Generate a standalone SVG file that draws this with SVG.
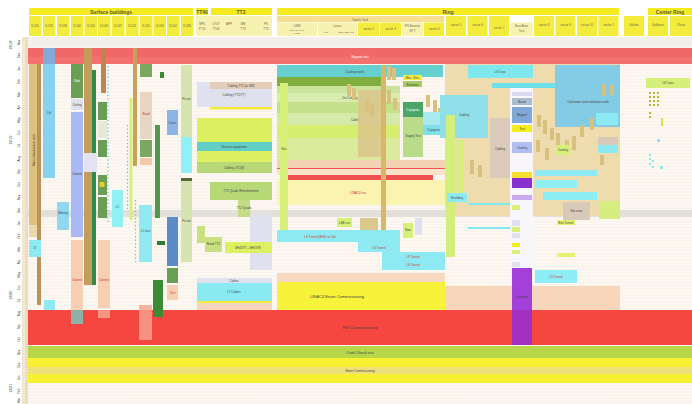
<svg xmlns="http://www.w3.org/2000/svg" width="692" height="404" viewBox="0 0 692 404">
<defs>
<pattern id="grid" x="0" y="37" width="692" height="3.225" patternUnits="userSpaceOnUse">
<line x1="0" y1="0.2" x2="692" y2="0.2" stroke="#ede3d8" stroke-width="0.4"/>
</pattern>
<pattern id="ticks" x="0" y="37" width="6" height="1.61" patternUnits="userSpaceOnUse">
<line x1="1" y1="0.5" x2="4.5" y2="0.5" stroke="#c8b088" stroke-width="0.35"/>
</pattern>
<style>
.t{font-family:"Liberation Sans",Arial,sans-serif;fill:#444}
.h{font-size:5px;font-weight:bold;fill:#5a5a3a}
.c{font-size:3px;fill:#6a6a50}
.s{font-size:3px}
.m{font-size:4px}
.r{fill:#d03030}
.w{fill:#ffffff}
.hy{fill:#f3ea1f}
.hc{fill:#f4ec3c}
.hp{fill:#f8f2b0}
.tan{fill:#dcc07c}
.brn{fill:#bb925a}
.lb{fill:#86d2f0}
.cy{fill:#8eeaf2}
.grn{fill:#6a9e55}
.dg{fill:#2f8c48}
.pk{fill:#f7cfb2}
.lav{fill:#e0e1ef}
.per{fill:#a9b9f3}
.yg{fill:#dcf060}
.lg{fill:#c6e08a}
.pg{fill:#d6e4b0}
.tb{fill:#d8c07e}
.pur{fill:#a240d6}
</style>
</defs>

<rect x="0" y="0" width="692" height="404" fill="#ffffff"/>

<g id="chart-background">
<rect x="28" y="37" width="664" height="367" fill="#fcf7f1"/>
<rect x="28" y="37" width="664" height="367" fill="url(#grid)"/>
<rect x="28" y="37" width="664" height="10" fill="#f3efea"/>
<rect x="28" y="210" width="664" height="7" fill="#e3dfdb"/>
</g>

<g id="axis">
<rect x="22" y="37" width="6" height="367" fill="#f4e8d2"/>
<rect x="22" y="37" width="6" height="367" fill="url(#ticks)"/>
<g class="t" font-size="3.2" fill="#666">
<text class="t m" transform="translate(12,45) rotate(-90)" text-anchor="middle">2018</text>
<text class="t m" transform="translate(12,140) rotate(-90)" text-anchor="middle">2019</text>
<text class="t m" transform="translate(12,295) rotate(-90)" text-anchor="middle">2020</text>
<text class="t m" transform="translate(12,388) rotate(-90)" text-anchor="middle">2021</text>
</g>
<g class="t" font-size="3" text-anchor="middle">
<text transform="translate(19.5,42.6) rotate(-90)">Nov</text>
<text transform="translate(19.5,55.5) rotate(-90)">Dec</text>
<text transform="translate(19.5,68.5) rotate(-90)">Jan</text>
<text transform="translate(19.5,81.4) rotate(-90)">Feb</text>
<text transform="translate(19.5,94.3) rotate(-90)">Mar</text>
<text transform="translate(19.5,107.2) rotate(-90)">Apr</text>
<text transform="translate(19.5,120.1) rotate(-90)">May</text>
<text transform="translate(19.5,133) rotate(-90)">Jun</text>
<text transform="translate(19.5,145.9) rotate(-90)">Jul</text>
<text transform="translate(19.5,158.8) rotate(-90)">Aug</text>
<text transform="translate(19.5,171.7) rotate(-90)">Sep</text>
<text transform="translate(19.5,184.6) rotate(-90)">Oct</text>
<text transform="translate(19.5,197.5) rotate(-90)">Nov</text>
<text transform="translate(19.5,210.4) rotate(-90)">Dec</text>
<text transform="translate(19.5,223.3) rotate(-90)">Jan</text>
<text transform="translate(19.5,236.2) rotate(-90)">Feb</text>
<text transform="translate(19.5,249.1) rotate(-90)">Mar</text>
<text transform="translate(19.5,262) rotate(-90)">Apr</text>
<text transform="translate(19.5,274.9) rotate(-90)">May</text>
<text transform="translate(19.5,287.8) rotate(-90)">Jun</text>
<text transform="translate(19.5,300.7) rotate(-90)">Jul</text>
<text transform="translate(19.5,313.6) rotate(-90)">Aug</text>
<text transform="translate(19.5,326.5) rotate(-90)">Sep</text>
<text transform="translate(19.5,339.4) rotate(-90)">Oct</text>
<text transform="translate(19.5,352.3) rotate(-90)">Nov</text>
<text transform="translate(19.5,365.2) rotate(-90)">Dec</text>
<text transform="translate(19.5,378.1) rotate(-90)">Jan</text>
<text transform="translate(19.5,391) rotate(-90)">Feb</text>
<text transform="translate(19.5,400.5) rotate(-90)">Mar</text>
</g>
</g>

<g id="header">
<rect class="hy" x="29" y="8" width="164" height="7"/>
<text class="t h" x="111" y="13.5" text-anchor="middle">Surface buildings</text>
<rect class="hy" x="196" y="8" width="12" height="7"/>
<text class="t h" x="202" y="13.5" text-anchor="middle" font-size="3.5">TT40</text>
<rect class="hy" x="211" y="8" width="61" height="7"/>
<text class="t h" x="241" y="13.5" text-anchor="middle">TT2</text>
<rect class="hy" x="277" y="8" width="342" height="7"/>
<text class="t h" x="448" y="13.5" text-anchor="middle">Ring</text>
<rect class="hy" x="648" y="8" width="44" height="7"/>
<text class="t h" x="670" y="13.5" text-anchor="middle">Center Ring</text>

<g class="hc">
<rect x="29" y="16" width="12.5" height="20"/><rect x="43" y="16" width="12.5" height="20"/>
<rect x="57" y="16" width="12.5" height="20"/><rect x="71" y="16" width="12.5" height="20"/>
<rect x="84.5" y="16" width="12.5" height="20"/><rect x="98" y="16" width="12.5" height="20"/>
<rect x="112" y="16" width="12.5" height="20"/><rect x="126" y="16" width="12.5" height="20"/>
<rect x="140" y="16" width="12.5" height="20"/><rect x="153.5" y="16" width="12.5" height="20"/>
<rect x="167" y="16" width="12.5" height="20"/><rect x="181" y="16" width="12.5" height="20"/>
</g>
<g class="c t" text-anchor="middle">
<text x="35" y="27">S-531</text><text x="49" y="27">S-535</text><text x="63" y="27">S-538</text>
<text x="77" y="27">S-540</text><text x="91" y="27">S-541</text><text x="104" y="27">S-543</text>
<text x="118" y="27">S-547</text><text x="132" y="27">S-553</text><text x="146" y="27">S-561</text>
<text x="160" y="27">S-565</text><text x="173" y="27">S-567</text><text x="187" y="27">S-588</text>
</g>
<rect class="hp" x="196" y="16" width="76" height="20"/>
<g class="c t" text-anchor="middle">
<text x="202" y="25">SPS</text><text x="202" y="30">TT10</text>
<text x="216" y="25">sTGT</text><text x="216" y="30">TT40</text>
<text x="229" y="25">APP</text>
<text x="243" y="25">IBE</text><text x="243" y="30">TT4</text>
<text x="266" y="25">PS</text><text x="266" y="30">TT2</text>
</g>
<rect x="277" y="16" width="167" height="6" fill="#f6df90"/>
<text class="c t" x="360" y="20.5" text-anchor="middle">Switch Yard</text>
<rect class="hp" x="277" y="22.5" width="40" height="13.5"/>
<rect class="hp" x="318" y="22.5" width="39" height="13.5"/>
<rect class="hc" x="358" y="22.5" width="21" height="13.5"/>
<rect class="hc" x="380" y="22.5" width="21" height="13.5"/>
<rect class="hp" x="402" y="22.5" width="21" height="13.5"/>
<rect class="hc" x="424" y="22.5" width="20" height="13.5"/>
<rect class="hc" x="446" y="16" width="20" height="20"/>
<rect class="hc" x="467.5" y="16" width="20" height="20"/>
<rect class="hc" x="489" y="16" width="20" height="20"/>
<rect class="hp" x="510.5" y="22.5" width="22" height="13.5"/>
<rect class="hc" x="534" y="16" width="20" height="20"/>
<rect class="hc" x="555.5" y="16" width="20" height="20"/>
<rect class="hc" x="577" y="16" width="20" height="20"/>
<rect class="hc" x="598.5" y="16" width="20" height="20"/>
<rect class="hc" x="624" y="16" width="20" height="20"/>
<rect class="hc" x="648" y="16" width="20" height="20"/>
<rect class="hc" x="670" y="16" width="22" height="20"/>
<g class="c t" text-anchor="middle">
<text x="297" y="26.5">LINR</text><text x="297" y="30.5" font-size="2.5">OSI-TS-LT-S</text><text x="297" y="34" font-size="2.5">LINR</text>
<text x="337.5" y="27">Linacs</text><text x="326" y="32.5" font-size="2.5">LT1</text><text x="346" y="32.5" font-size="2.5">SBC-SBC-TS</text>
<text x="368.5" y="30">sector 2</text><text x="390.5" y="30">sector 3</text>
<text x="412.5" y="27">PS Booster</text><text x="412.5" y="32">BTY</text>
<text x="434" y="30">sector 4</text><text x="456" y="26">sector 5</text>
<text x="477.5" y="26">sector 6</text><text x="499" y="29">sector 7</text>
<text x="521.5" y="27">East Area</text><text x="521.5" y="32">Test</text>
<text x="544" y="26">sector 8</text><text x="565.5" y="26">sector 9</text>
<text x="587" y="26">sector 10</text><text x="608.5" y="26">sector 1</text>
<text x="634" y="26">Utilities</text>
<text x="658" y="26">Galleries</text><text x="681" y="26">Chute</text>
</g>
</g>

<g id="shutdown-band">
<rect x="28" y="48" width="664" height="16" fill="#f26868"/>
<rect x="28" y="57" width="664" height="7" fill="#f47a74" opacity="0.6"/>
<text class="t s w" x="360" y="57.5" text-anchor="middle">Magnets test</text>
</g>

<g id="surface-buildings">
<rect class="tan" x="29" y="64" width="8" height="173"/>
<text class="t s" transform="translate(34.5,150) rotate(-90)" text-anchor="middle">Main infrastructure work</text>
<rect x="29" y="225" width="8" height="12" fill="#ead9ac"/>
<rect class="brn" x="37" y="64" width="4" height="241"/>
<rect class="cy" x="29" y="240" width="12" height="17"/>
<text class="t s" x="35" y="249" text-anchor="middle" font-size="2.5">LT</text>
<rect x="43" y="48" width="12" height="16" fill="#85a9d6"/>
<rect class="lb" x="43" y="64" width="12" height="114"/>
<text class="t s" x="49" y="114" text-anchor="middle" font-size="2.5">Lift</text>
<rect class="cy" x="44" y="300" width="11" height="10"/>
<rect x="57" y="202" width="12" height="28" fill="#8fd8f0"/>
<text class="t s" x="63" y="214" text-anchor="middle" font-size="2.5">Moving</text>
<rect class="grn" x="71" y="64" width="12" height="34"/>
<text class="t s w" x="77" y="82" text-anchor="middle" font-size="2.5">Slab</text>
<rect class="lav" x="71" y="99" width="12" height="11"/>
<text class="t s" x="77" y="105.5" text-anchor="middle" font-size="2.5">Ceiling</text>
<rect class="per" x="71" y="112" width="12" height="125"/>
<text class="t s" x="77" y="175" text-anchor="middle" font-size="2.5">Control</text>
<rect class="pk" x="71" y="240" width="12" height="70"/>
<text class="t s r" x="77" y="281" text-anchor="middle" font-size="2.5">Control</text>
<rect x="71" y="310" width="12" height="14" fill="#8fb2a8"/>
<rect x="84" y="48" width="8" height="237" fill="#c49c5c"/>
<rect class="dg" x="92" y="70" width="4" height="215"/>
<rect x="101" y="48" width="5" height="45" fill="#bf8452"/>
<rect class="grn" x="98" y="102" width="9" height="18"/>
<rect x="98" y="121" width="9" height="17" fill="#e6e8da"/>
<rect class="grn" x="98" y="140" width="9" height="17"/>
<rect x="84" y="153" width="13" height="19" fill="#e2e2f0"/>
<rect class="grn" x="98" y="175" width="9" height="20"/>
<rect x="99.5" y="182" width="5" height="5" fill="#e8cc30"/>
<rect class="grn" x="98" y="197" width="9" height="21"/>
<line x1="108" y1="66" x2="108" y2="222" stroke="#4cc0e8" stroke-width="1.2" stroke-dasharray="1.2 2.4"/>
<rect class="pk" x="98" y="240" width="12" height="68"/>
<text class="t s r" x="104" y="281" text-anchor="middle" font-size="2.5">Control</text>
<rect x="112" y="190" width="11" height="37" fill="#90f0f2"/>
<text class="t s" x="117.5" y="208" text-anchor="middle" font-size="2.5">LC</text>
<rect x="133" y="48" width="4" height="118" fill="#c9a05e"/>
<rect x="129.5" y="98" width="3" height="122" fill="#d8f07a"/>
<line x1="127.5" y1="125" x2="127.5" y2="210" stroke="#4cc0e8" stroke-width="1.2" stroke-dasharray="1.2 2.4"/>
<line x1="135.5" y1="200" x2="135.5" y2="262" stroke="#4cc0e8" stroke-width="1.2" stroke-dasharray="1.2 2.4"/>
<rect x="140" y="64" width="12" height="13" fill="#7aa860"/>
<rect x="140" y="92" width="12" height="47" fill="#e8d6c4"/>
<text class="t s r" x="146" y="115" text-anchor="middle" font-size="2.5">Road</text>
<rect x="140" y="140" width="12" height="17" fill="#7aa860"/>
<rect x="140" y="158" width="12" height="7" fill="#f5c9a8"/>
<rect x="139" y="205" width="13" height="57" fill="#90eaf2"/>
<text class="t s" x="145.5" y="232" text-anchor="middle" font-size="2.5">LC test</text>
<rect x="139" y="305" width="13" height="35" fill="#f5b49c"/>
<text class="t s r" x="145.5" y="323" text-anchor="middle" font-size="2.5">Control</text>
<rect x="160" y="72" width="4" height="6" fill="#3a8a36"/>
<rect x="155" y="125" width="5" height="93" fill="#4f9a4a"/>
<rect x="157" y="241" width="8" height="4" fill="#2e7a30"/>
<rect x="153" y="280" width="10" height="37" fill="#3a8a36"/>
<rect x="167" y="110" width="11" height="25" fill="#8cb4e6"/>
<text class="t s" x="172.5" y="124" text-anchor="middle" font-size="2.5">Cours</text>
<rect x="167" y="217" width="11" height="49" fill="#5b8cc8"/>
<rect class="grn" x="167" y="268" width="11" height="15"/>
<rect class="pk" x="167" y="285" width="11" height="15"/>
<text class="t s r" x="172.5" y="294" text-anchor="middle" font-size="2.5">Test</text>
<rect class="pg" x="181" y="65" width="11" height="72"/>
<text class="t s" x="186.5" y="100" text-anchor="middle" font-size="2.5">Fit out</text>
<rect x="181" y="137" width="11" height="36" fill="#90f0f8"/>
<rect x="181" y="178" width="11" height="3" fill="#556b3a"/>
<rect class="pg" x="181" y="181" width="11" height="81"/>
<text class="t s" x="186.5" y="222" text-anchor="middle" font-size="2.5">Fit out</text>
</g>

<g id="tt40-tt2">
<rect class="lav" x="197" y="82" width="75" height="25"/>
<rect x="210" y="82" width="62" height="7" fill="#e1cdb8"/>
<text class="t s" x="241" y="87" text-anchor="middle">Cabling TT2 (to SM)</text>
<text class="t s" x="234" y="96" text-anchor="middle">Cabling (TT2/TT)</text>
<rect x="210" y="107" width="62" height="2.5" fill="#f3ea3a"/>
<rect class="yg" x="197" y="118" width="75" height="24"/>
<rect x="197" y="142" width="75" height="9" fill="#62cfc6"/>
<text class="t s" x="234" y="148" text-anchor="middle">Vacuum equipment</text>
<rect class="yg" x="197" y="151" width="75" height="11"/>
<rect x="197" y="162" width="75" height="11" fill="#b8d878"/>
<text class="t s" x="234" y="169" text-anchor="middle">Cabling LTC(B)</text>
<rect x="210" y="182" width="62" height="18" fill="#b8d878"/>
<text class="t s" x="241" y="192" text-anchor="middle">TT2 Quads Refurbishment</text>
<rect x="238" y="200" width="12" height="17" fill="#c4dc86"/>
<text class="t s" x="244" y="209" text-anchor="middle" font-size="2.3">TT2 Quads</text>
<rect class="lav" x="250" y="215" width="22" height="55"/>
<rect x="197" y="226" width="8" height="17" fill="#c8e080"/>
<rect x="205" y="237" width="17" height="15" fill="#c8e080"/>
<text class="t s" x="213.5" y="245" text-anchor="middle" font-size="2.3">Road TT2</text>
<rect class="yg" x="225" y="242" width="47" height="11"/>
<text class="t s" x="248" y="249" text-anchor="middle">BHZ377 + BHZ378</text>
<rect class="lav" x="197" y="278" width="75" height="5"/>
<text class="t s" x="234" y="282" text-anchor="middle" font-size="2.5">Cables</text>
<rect x="197" y="283" width="75" height="18" fill="#8aeaf2"/>
<text class="t s" x="234" y="293" text-anchor="middle">LT Cables</text>
<rect x="197" y="301" width="75" height="2.5" fill="#f3ea3a"/>
<rect x="197" y="303" width="75" height="7" fill="#f7d4bc"/>
</g>

<g id="ring-switch-yard">
<rect x="277" y="65" width="166" height="12" fill="#66cfd0"/>
<text class="t s" x="355" y="72.5" text-anchor="middle">Cooling works</text>
<rect x="277" y="77" width="108" height="9" fill="#7fae3e"/>
<rect x="277" y="86" width="123" height="7" fill="#c9e39a"/>
<rect x="277" y="93" width="123" height="9" fill="#d8ecb0"/>
<text class="t s" x="350" y="99" text-anchor="middle">De-Cabling</text>
<rect x="277" y="102" width="123" height="11" fill="#c4e08a"/>
<rect x="277" y="113" width="123" height="12" fill="#d5eaa8"/>
<text class="t s" x="356" y="121" text-anchor="middle">Cabling</text>
<rect x="277" y="125" width="123" height="13" fill="#d6ee70"/>
<rect x="277" y="138" width="123" height="22" fill="#dcea9e"/>
<rect x="277" y="160" width="168" height="8" fill="#f3d2b4"/>
<rect x="277" y="168" width="168" height="1" fill="#f05050"/>
<rect x="277" y="169" width="168" height="6" fill="#f8e2c8"/>
<rect x="280" y="175" width="153" height="5" fill="#f05050"/>
<rect x="277" y="180" width="168" height="25" fill="#fbf3b0"/>
<text class="t s r" x="358" y="194" text-anchor="middle">LINAC4 run</text>
<rect x="280" y="83" width="8" height="150" fill="#d7f07a"/>
<text class="t s" x="284" y="150" text-anchor="middle" font-size="2.5">Bus</text>
<rect x="358" y="90" width="27" height="67" fill="#d9c48a" opacity="0.85"/>
<rect x="381" y="65" width="5" height="165" fill="#d8b868"/>
<g class="tb">
<rect x="387" y="66" width="4" height="14"/><rect x="392" y="68" width="4" height="12"/>
<rect x="347" y="84" width="4" height="12"/><rect x="352" y="88" width="4" height="12"/>
<rect x="387" y="90" width="4" height="14"/><rect x="393" y="98" width="4" height="12"/>
<rect x="365" y="100" width="4" height="12"/><rect x="370" y="104" width="4" height="12"/>
<rect x="426" y="95" width="4" height="12"/><rect x="433" y="100" width="4" height="14"/>
<rect x="438" y="108" width="4" height="12"/>
</g>
<rect x="403" y="75" width="19" height="5" fill="#f5ec40"/>
<text class="t s" x="412.5" y="79" text-anchor="middle" font-size="2.5">Misc. Env.</text>
<rect x="403" y="81" width="19" height="6" fill="#a5cc62"/>
<text class="t s" x="412.5" y="85.5" text-anchor="middle" font-size="2.5">Removal</text>
<rect x="403" y="102" width="20" height="15" fill="#4aa668"/>
<text class="t s w" x="413" y="111" text-anchor="middle" font-size="2.5">Cryogenic</text>
<rect x="403" y="117" width="20" height="40" fill="#b8dc8a"/>
<text class="t s" x="413" y="137" text-anchor="middle" font-size="2.5">Supply Test</text>
<rect x="423" y="112" width="22" height="13" fill="#a8eaf0"/>
<rect x="423" y="125" width="22" height="10" fill="#7fe0e8"/>
<text class="t s" x="434" y="131" text-anchor="middle" font-size="2.5">Cryogenic</text>
<rect x="337" y="218" width="15" height="9" fill="#d6f07a"/>
<text class="t s" x="344.5" y="224" text-anchor="middle" font-size="2.5">LBE run</text>
<rect x="360" y="218" width="18" height="12" fill="#dcc88e"/>
<rect x="403" y="223" width="10" height="15" fill="#d7f07a"/>
<text class="t s" x="408" y="231" text-anchor="middle" font-size="2.3">New</text>
<rect class="lav" x="415" y="218" width="7" height="17"/>
<rect class="cy" x="277" y="230" width="123" height="12"/>
<text class="t s r" x="320" y="237.5" text-anchor="middle">LS Tunnel (BHZ) to 100</text>
<rect class="cy" x="358" y="242" width="42" height="10"/>
<text class="t s r" x="379" y="248.5" text-anchor="middle" font-size="2.5">LS Tunnel</text>
<rect class="cy" x="382" y="252" width="63" height="18"/>
<text class="t s r" x="413" y="257.5" text-anchor="middle" font-size="2.5">LS Tunnel</text>
<text class="t s r" x="413" y="266" text-anchor="middle" font-size="2.5">LS Tunnel</text>
<rect x="277" y="273" width="168" height="9" fill="#f8d8c0"/>
<rect x="277" y="282" width="168" height="28" fill="#f7f23a"/>
<text class="t m" x="337" y="297.5" text-anchor="middle">LINAC4 Beam Commissioning</text>
</g>

<g id="ring-sectors">
<rect x="445" y="64" width="175" height="152" fill="#efdcae"/>
<rect x="468" y="65" width="65" height="13" fill="#7fe8ee"/>
<text class="t s" x="500" y="73" text-anchor="middle" font-size="2.5">LS Cryo</text>
<rect x="492" y="83" width="63" height="5" fill="#6ee0e8"/>
<rect x="440" y="95" width="48" height="43" fill="#8fe0ea"/>
<text class="t s" x="464" y="116" text-anchor="middle" font-size="2.5">Cabling</text>
<rect x="446" y="115" width="9" height="142" fill="#d4ee7c"/>
<rect x="457" y="140" width="6" height="60" fill="#d6f07a"/>
<rect x="490" y="118" width="20" height="60" fill="#dacbbb"/>
<text class="t s" x="500" y="150" text-anchor="middle" font-size="2.5">Cabling</text>
<rect x="510" y="88" width="23" height="200" fill="#f8f6fb"/>
<rect x="512" y="92" width="20" height="4" fill="#d8d8f0"/>
<rect x="512" y="98" width="20" height="7" fill="#a9bcd0"/>
<text class="t s" x="522" y="103" text-anchor="middle" font-size="2.3">Beam</text>
<rect x="512" y="107" width="20" height="16" fill="#7fa8d8"/>
<text class="t s" x="522" y="116" text-anchor="middle" font-size="2.3">Magnet</text>
<rect x="512" y="125" width="20" height="7" fill="#f5ec20"/>
<text class="t s" x="522" y="130" text-anchor="middle" font-size="2.3">Test</text>
<rect x="512" y="142" width="20" height="11" fill="#b0bff2"/>
<text class="t s" x="522" y="149" text-anchor="middle" font-size="2.3">Cooling</text>
<rect x="512" y="172" width="20" height="6" fill="#f5e030"/>
<rect x="512" y="178" width="20" height="10" fill="#8a2fd0"/>
<rect x="512" y="195" width="20" height="5" fill="#c9a8f0"/>
<rect x="512" y="205" width="8" height="5" fill="#d6f07a"/>
<rect x="512" y="220" width="8" height="6" class="lav"/>
<rect x="512" y="227" width="8" height="5" fill="#d6f07a"/>
<rect x="512" y="233" width="8" height="5" class="lav"/>
<rect x="512" y="243" width="8" height="4" fill="#f5ec20"/>
<rect x="512" y="250" width="8" height="4" fill="#d6f07a"/>
<rect x="512" y="262" width="8" height="5" class="lav"/>
<path d="M555 65 H620 V127 H555 V75 Z" fill="#84cbe6"/>
<text class="t s" x="588" y="103" text-anchor="middle" font-size="2.8">Cold water and ventilation work</text>
<g class="tb">
<rect x="537" y="115" width="4" height="12"/><rect x="543" y="120" width="4" height="14"/>
<rect x="550" y="128" width="4" height="12"/><rect x="556" y="133" width="4" height="14"/>
<rect x="565" y="140" width="4" height="12"/><rect x="572" y="136" width="4" height="14"/>
<rect x="580" y="125" width="4" height="12"/><rect x="590" y="118" width="4" height="12"/>
<rect x="602" y="84" width="4" height="12"/><rect x="610" y="85" width="4" height="10"/>
<rect x="536" y="140" width="4" height="12"/><rect x="545" y="148" width="4" height="12"/>
<rect x="470" y="160" width="4" height="14"/><rect x="478" y="165" width="4" height="12"/>
<rect x="600" y="155" width="4" height="10"/>
</g>
<rect x="596" y="113" width="22" height="12" fill="#8eeaf2"/>
<rect x="556" y="145" width="14" height="10" fill="#d6f07a"/>
<text class="t s" x="563" y="151" text-anchor="middle" font-size="2.3">Cooling</text>
<rect x="598" y="137" width="20" height="8" fill="#d9c9bb"/>
<rect x="598" y="145" width="20" height="8" fill="#8eeaf2"/>
<rect x="535" y="170" width="62" height="6" fill="#8eeaf2"/>
<rect x="447" y="193" width="20" height="9" fill="#8eeaf2"/>
<text class="t s" x="457" y="199" text-anchor="middle" font-size="2.3">Shielding</text>
<rect x="468" y="203" width="42" height="2" fill="#7fe8f0"/>
<rect x="468" y="227" width="42" height="2" fill="#7fe8f0"/>
<rect x="535" y="180" width="42" height="8" fill="#8eeef5"/>
<rect x="543" y="192" width="54" height="8" fill="#8eeef5"/>
<rect x="563" y="202" width="27" height="18" fill="#d9c9bb"/>
<text class="t s" x="576.5" y="212" text-anchor="middle" font-size="2.3">Hot zone</text>
<rect x="599" y="201" width="21" height="18" fill="#d6ee80"/>
<rect x="557" y="220" width="18" height="5" fill="#e4f070"/>
<text class="t s" x="566" y="224" text-anchor="middle" font-size="2.3">Exit Tunnel</text>
<rect x="557" y="253" width="18" height="4" fill="#e4f070"/>
<rect x="535" y="270" width="42" height="13" fill="#8eeef5"/>
<text class="t s r" x="556" y="278" text-anchor="middle" font-size="2.3">LS Tunnel</text>
<rect x="445" y="286" width="175" height="24" fill="#f8d6bc"/>
<rect x="512" y="268" width="20" height="77" fill="#a340d8"/>
<rect x="512" y="310" width="20" height="35" fill="#a22fc0"/>
<text class="t s" x="522" y="298" text-anchor="middle" font-size="2.3">Commiss.</text>
</g>

<g id="center-ring">
<rect x="646" y="78" width="44" height="10" fill="#d4f07a"/>
<text class="t s" x="668" y="84" text-anchor="middle" font-size="2.5">LV Lines</text>
<g fill="#a8c030">
<rect x="649" y="92" width="2" height="2"/><rect x="653" y="92" width="2" height="2"/><rect x="657" y="92" width="2" height="2"/>
<rect x="649" y="96" width="2" height="2"/><rect x="653" y="96" width="2" height="2"/><rect x="657" y="96" width="2" height="2"/>
<rect x="649" y="100" width="2" height="2"/><rect x="653" y="100" width="2" height="2"/><rect x="657" y="100" width="2" height="2"/>
<rect x="649" y="104" width="2" height="2"/><rect x="653" y="104" width="2" height="2"/><rect x="657" y="104" width="2" height="2"/>
<rect x="649" y="112" width="2" height="2"/><rect x="649" y="116" width="2" height="2"/>
<rect x="661" y="118" width="2" height="8" fill="#d8e040"/>
</g>
<g fill="#8ee6f0">
<rect x="657" y="139" width="3" height="3"/>
<rect x="649" y="154" width="2" height="2"/><rect x="649" y="158" width="2" height="2"/><rect x="652" y="160" width="2" height="2"/>
<rect x="649" y="163" width="2" height="2"/><rect x="652" y="166" width="2" height="2"/><rect x="660" y="166" width="3" height="3"/>
</g>
</g>

<g id="commissioning-bands">
<rect x="28" y="310" width="664" height="35" fill="#f5473f"/>
<rect x="139" y="310" width="13" height="30" fill="#f5b49c" opacity="0.7"/>
<rect x="71" y="310" width="12" height="14" fill="#8fb2a8"/>
<rect x="98" y="310" width="12" height="8" fill="#f7b8a0" opacity="0.7"/>
<rect x="153" y="310" width="10" height="7" fill="#3a8a36"/>
<rect x="512" y="310" width="20" height="35" fill="#a22fc0"/>
<text class="t m" x="360" y="329" text-anchor="middle">HW Commissioning</text>
<rect x="28" y="346" width="664" height="12" fill="#b7d64a"/>
<text class="t m" x="360" y="353.5" text-anchor="middle">Cold Check out</text>
<rect x="28" y="358" width="664" height="25" fill="#f7f131"/>
<rect x="28" y="367" width="664" height="7" fill="#eee17a"/>
<text class="t s" x="360" y="372" text-anchor="middle">Beam Commissioning</text>
</g>
</svg>
